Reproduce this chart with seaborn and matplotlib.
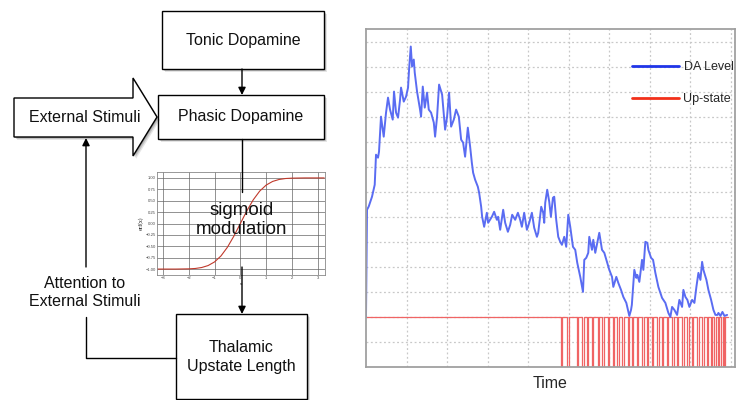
import matplotlib
matplotlib.use("Agg")
import matplotlib.pyplot as plt
import seaborn as sns
import pandas as pd
from matplotlib.patches import Polygon
from matplotlib.lines import Line2D

# DA level trace (time, level)
da_time = [0.00, 0.025, 0.067, 0.099, 0.148, 0.215, 0.247, 0.296, 0.321, 0.370,
           0.437, 0.494, 0.543, 0.593, 0.659, 0.691, 0.741, 0.790, 0.840, 0.864,
           0.931, 0.988, 1.037, 1.062, 1.104, 1.136, 1.178, 1.202, 1.259, 1.333,
           1.358, 1.400, 1.449, 1.506, 1.548, 1.605, 1.672, 1.704, 1.753, 1.802,
           1.877, 1.926, 1.951, 2.000, 2.049, 2.099, 2.165, 2.222, 2.289, 2.346,
           2.395, 2.444, 2.511, 2.568, 2.610, 2.642, 2.691, 2.758, 2.790, 2.840,
           2.864, 2.914, 2.980, 3.012, 3.104, 3.160, 3.227, 3.259, 3.309, 3.383,
           3.432, 3.499, 3.556, 3.605, 3.679, 3.746, 3.802, 3.844, 3.901, 3.968,
           4.025, 4.091, 4.148, 4.215, 4.247, 4.321, 4.370, 4.395, 4.420, 4.469,
           4.519, 4.560, 4.610, 4.642, 4.691, 4.741, 4.790, 4.832, 4.889, 4.938,
           4.988, 5.037, 5.104, 5.160, 5.210, 5.284, 5.351, 5.383, 5.432, 5.481,
           5.506, 5.573, 5.605, 5.654, 5.704, 5.753, 5.820, 5.877, 5.943, 6.000,
           6.067, 6.099, 6.173, 6.222, 6.289, 6.346, 6.420, 6.494, 6.536, 6.556,
           6.617, 6.667, 6.691, 6.741, 6.807, 6.840, 6.889, 6.938, 6.963, 7.030,
           7.079, 7.136, 7.210, 7.301, 7.383, 7.457, 7.506, 7.548, 7.605, 7.672,
           7.728, 7.795, 7.827, 7.877, 7.926, 7.975, 8.042, 8.099, 8.148, 8.198,
           8.247, 8.289, 8.321, 8.395, 8.444, 8.511, 8.568, 8.617, 8.667, 8.691,
           8.741, 8.790, 8.840, 8.906]
da_level = [2.00, 6.28, 6.41, 6.56, 6.80, 7.28, 8.48, 8.36, 8.60, 10.00,
            9.20, 10.16, 10.76, 10.28, 9.88, 11.00, 10.16, 9.96, 10.68, 11.16,
            10.60, 10.80, 11.16, 11.88, 12.80, 12.00, 12.28, 11.76, 11.00, 10.28,
            10.00, 11.20, 10.36, 10.96, 10.28, 10.16, 9.76, 9.20, 10.00, 11.28,
            10.88, 9.96, 9.48, 10.00, 10.96, 9.60, 9.88, 10.28, 10.00, 9.08,
            8.96, 8.40, 9.56, 8.80, 8.16, 7.76, 7.48, 7.20, 6.96, 6.40,
            6.00, 5.60, 6.16, 5.76, 6.00, 6.20, 5.88, 6.00, 5.48, 6.28,
            5.76, 5.40, 5.68, 6.08, 5.88, 6.16, 5.88, 5.60, 6.16, 5.48,
            5.76, 6.16, 5.56, 5.20, 5.36, 6.40, 6.16, 5.76, 6.56, 7.08,
            6.60, 6.00, 6.76, 6.80, 5.88, 5.20, 5.00, 4.88, 5.20, 4.80,
            6.08, 5.60, 4.80, 4.68, 4.16, 3.60, 3.00, 4.28, 4.36, 4.56,
            5.20, 4.68, 5.08, 4.56, 4.96, 5.36, 4.68, 4.56, 4.20, 3.88,
            3.60, 3.20, 3.60, 3.36, 3.08, 2.80, 2.56, 2.04, 2.28, 2.48,
            3.88, 3.56, 3.68, 3.40, 4.28, 3.88, 5.00, 4.96, 4.68, 4.36,
            4.28, 3.76, 3.20, 2.76, 2.56, 2.16, 2.00, 2.40, 2.28, 2.08,
            2.68, 2.40, 3.08, 2.80, 2.68, 2.40, 2.68, 2.56, 3.20, 3.76,
            3.48, 4.20, 3.88, 3.48, 3.08, 2.68, 2.28, 2.08, 2.08, 2.16,
            2.04, 2.20, 2.04, 2.08]

# up-state: high level with short drops to zero at these onsets
pulse_onsets = [4.81, 4.96, 5.20, 5.33, 5.45, 5.57, 5.71, 5.83, 5.97, 6.09,
                6.20, 6.32, 6.45, 6.56, 6.68, 6.81, 6.93, 7.05, 7.18, 7.30,
                7.42, 7.55, 7.67, 7.80, 7.92, 8.04, 8.17, 8.29, 8.41, 8.51,
                8.59, 8.67, 8.76, 8.82]
pulse_width = 0.035
upstate_high = 2.0
upstate_low = 0.0
upstate_end = 8.92

# sigmoid inset (erf curve)
sig_x = [-3.25, -3.0, -2.5, -2.0, -1.75, -1.5, -1.25, -1.0, -0.75, -0.5, -0.25, 0.0,
         0.25, 0.5, 0.75, 1.0, 1.25, 1.5, 1.75, 2.0, 2.5, 3.0, 3.25]
sig_y = [-1.0, -1.0, -1.0, -0.995, -0.987, -0.966, -0.923, -0.843, -0.711, -0.52, -0.276, 0.0,
         0.276, 0.52, 0.711, 0.843, 0.923, 0.966, 0.987, 0.995, 1.0, 1.0, 1.0]

sns.set_theme(style="white")
plt.rcParams["font.family"] = ["Liberation Sans", "DejaVu Sans"]

W, H = 736, 400
fig = plt.figure(figsize=(W / 100, H / 100), dpi=100)

def frac(x0, y0, x1, y1):
    return [x0 / W, 1 - y1 / H, (x1 - x0) / W, (y1 - y0) / H]

# ---------------- right panel ----------------
ax = fig.add_axes(frac(366, 29, 735, 367))
ut, uv = [0.0], [upstate_high]
for s in pulse_onsets:
    ut += [s, s, s + pulse_width, s + pulse_width]
    uv += [upstate_high, upstate_low, upstate_low, upstate_high]
ut.append(upstate_end)
uv.append(upstate_high)
up_df = pd.DataFrame({"time": ut, "level": uv})
da_df = pd.DataFrame({"time": da_time, "level": da_level})

sns.lineplot(data=up_df, x="time", y="level", sort=False, estimator=None,
             color="#f06464", lw=0.9, ax=ax, label="Up-state")
sns.lineplot(data=da_df, x="time", y="level", sort=False, estimator=None,
             color="#5a6cf2", lw=1.4, ax=ax, label="DA Level")
ax.set_xlim(0, 9.1)
ax.set_ylim(0, 13.5)
ax.set_xticks(range(1, 10))
ax.set_yticks(range(1, 14))
ax.set_xticklabels([])
ax.set_yticklabels([])
ax.tick_params(length=0)
ax.grid(True, color="#c8c8c8", linestyle=(0, (1.5, 2)), lw=0.9)
for sp in ax.spines.values():
    sp.set_color("#a0a0a0")
    sp.set_linewidth(1.3)
ax.set_ylabel("")
ax.set_xlabel("Time", fontsize=11.5, labelpad=3)

handles = [Line2D([], [], color="#2035e8", lw=2),
           Line2D([], [], color="#f2301a", lw=2)]
ax.legend(handles, ["DA Level", "Up-state"], frameon=False, fontsize=9,
          loc="upper left", bbox_to_anchor=((621 - 366) / 369, (367 - 50) / 338),
          handlelength=3.7, handletextpad=0.4, labelspacing=1.6)

# ---------------- sigmoid inset ----------------
axi = fig.add_axes(frac(157, 172, 325, 275), zorder=1)
sns.lineplot(x=sig_x, y=sig_y, color="#c0392b", lw=0.8, ax=axi)
axi.set_xlim(-3.23, 3.28)
axi.set_ylim(-1.13, 1.13)
axi.set_xticks([-3, -2, -1, 0, 1, 2, 3])
axi.set_yticks([-1, -0.75, -0.5, -0.25, 0, 0.25, 0.5, 0.75, 1])
axi.set_yticklabels(["\u22121.00", "\u22120.75", "\u22120.50", "\u22120.25", "0.00",
                     "0.25", "0.50", "0.75", "1.00"])
axi.set_xticklabels(["\u22123", "\u22122", "\u22121", "0", "1", "2", "3"])
axi.tick_params(labelsize=3, length=1.5, width=0.4, pad=1, direction="in", colors="#444")
axi.grid(True, color="#666", lw=0.5)
for sp in axi.spines.values():
    sp.set_color("#888")
    sp.set_linewidth(0.6)
axi.set_ylabel("erf(x)", fontsize=3.5, labelpad=1, family="DejaVu Serif")
axi.set_xlabel("x", fontsize=3, labelpad=1, family="DejaVu Serif")

# ---------------- diagram ----------------
d = fig.add_axes([0, 0, 1, 1], zorder=3)
d.set_xlim(0, W)
d.set_ylim(H, 0)
d.axis("off")

def shadow(xy):
    for off, a in [(3.0, 0.10), (2.0, 0.15), (1.0, 0.2)]:
        d.add_patch(Polygon([(x + off, y + off) for x, y in xy], closed=True,
                            fc="black", ec="none", alpha=a))

def box(x0, y0, x1, y1):
    pts = [(x0, y0), (x1, y0), (x1, y1), (x0, y1)]
    shadow(pts)
    d.add_patch(Polygon(pts, closed=True, fc="white", ec="black", lw=1))

box(162, 11, 324, 69)
box(158, 95, 324, 139)
box(176, 314, 307, 399)
ext = [(14, 98), (133, 98), (133, 78), (157, 117), (133, 156), (133, 137), (14, 137)]
shadow(ext)
d.add_patch(Polygon(ext, closed=True, fc="white", ec="black", lw=1))

tk = dict(ha="center", va="center", fontsize=11.5, color="#111")
d.text(243, 40, "Tonic Dopamine", **tk)
d.text(241, 117, "Phasic Dopamine", **tk)
d.text(85, 117, "External Stimuli", **tk)
d.text(241, 357, "Thalamic\nUpstate Length", linespacing=1.25, **tk)
d.text(85, 293, "Attention to\nExternal Stimuli", linespacing=1.25, **tk)
d.text(242, 220, "sigmoid\nmodulation", ha="center", va="center", fontsize=13.5,
       color="#111", linespacing=1.2)

ap = dict(arrowstyle="-|>", color="black", lw=1, mutation_scale=11, shrinkA=0, shrinkB=0)
d.annotate("", xy=(242, 95), xytext=(242, 69), arrowprops=ap)
d.plot([242, 242], [139, 192], color="black", lw=1)
d.annotate("", xy=(242, 314), xytext=(242, 267), arrowprops=ap)
d.plot([176, 86, 86], [358, 358, 317], color="black", lw=1)
d.annotate("", xy=(86, 138), xytext=(86, 267), arrowprops=ap)

fig.savefig("out.png", dpi=100)
